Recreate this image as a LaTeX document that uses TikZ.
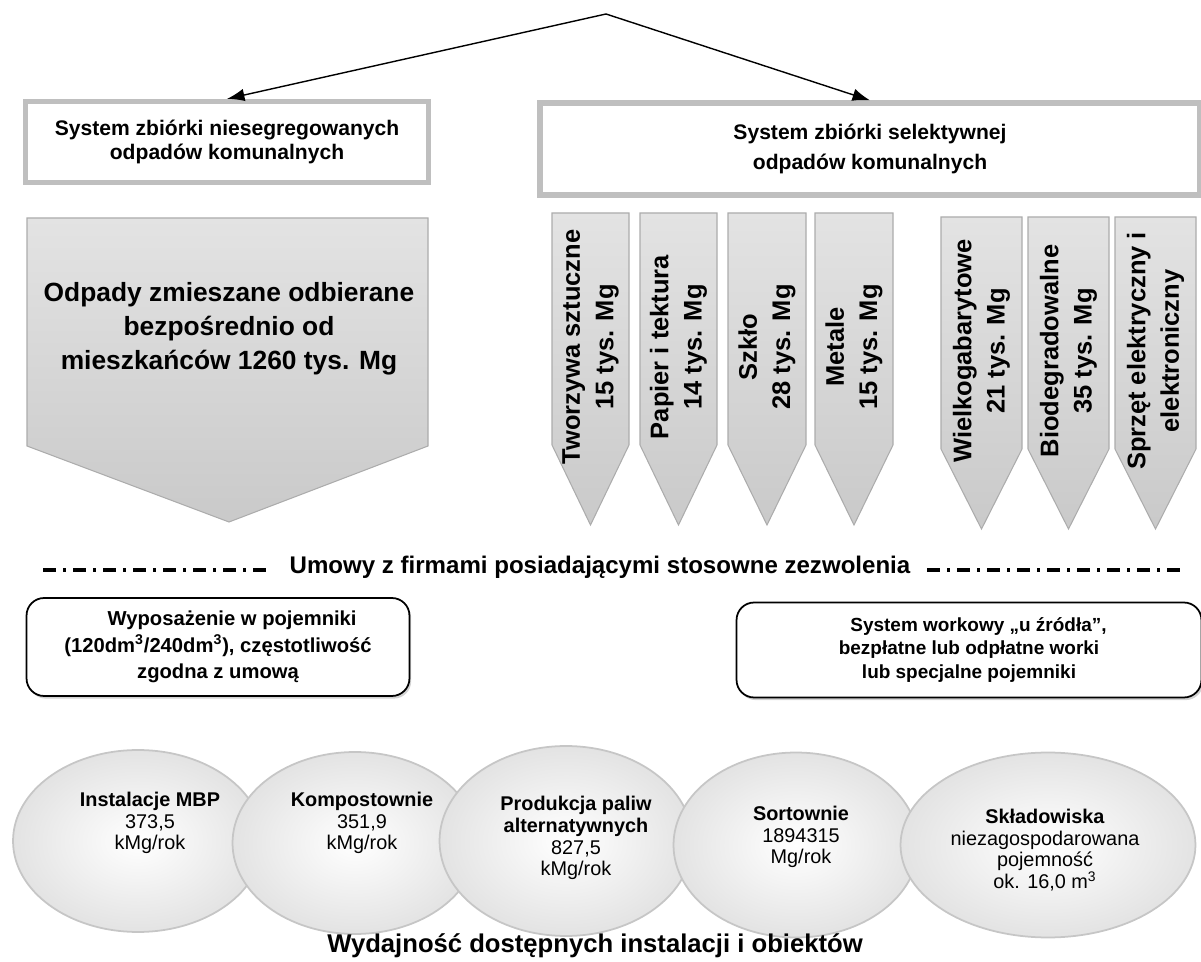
\documentclass[tikz,border=0pt]{standalone}
\usepackage{fontspec}
\setmainfont{Liberation Sans}
\usetikzlibrary{arrows.meta, positioning, shapes.geometric, shadows}

\begin{document}
\begin{tikzpicture}[
  x=0.02cm, y=-0.02cm,
  frame/.style={rectangle, draw=gray!50, line width=3pt, fill=white, align=center, font=\bfseries\fontsize{12}{14}\selectfont},
  tag/.style={draw=gray!65, top color=gray!22, bottom color=gray!42, line width=0.6pt},
  tagtext/.style={rotate=90, align=center, font=\bfseries\fontsize{14.5}{19}\selectfont},
  bigtext/.style={align=center, font=\bfseries\fontsize{15}{19.3}\selectfont},
  roundbox/.style={rectangle, rounded corners=10pt, draw, line width=1pt, fill=white, align=center, drop shadow={opacity=0.35, shadow xshift=1pt, shadow yshift=-1.5pt}},
  plant/.style={ellipse, draw=gray!45, line width=1pt, inner color=white, outer color=gray!22},
  planttext/.style={align=center, font=\fontsize{11.3}{12.4}\selectfont},
  arr/.style={-{Latex[length=3.5mm, width=2.5mm]}, line width=0.8pt},
  dd/.style={line width=2pt, dash pattern=on 7.4pt off 4pt on 1.7pt off 4pt},
]
\useasboundingbox (0,0) rectangle (1201,962);

% two collection systems
\coordinate (top) at (606,14);
\node[frame, minimum width=8.06cm, minimum height=1.62cm] (nieseg) at (227,142) {System zbiórki niesegregowanych\\odpadów komunalnych};
\node[frame, minimum width=13.2cm, minimum height=1.84cm, font=\bfseries\fontsize{12}{17}\selectfont] (selekt) at (870,149) {System zbiórki selektywnej\\odpadów komunalnych};
\draw[arr] (top) -- (nieseg.north);
\draw[arr] (top) -- (selekt.north);

% mixed waste
\draw[tag] (27,218) -- (428,218) -- (428,446) -- (229,522) -- (27,446) -- cycle;
\node[bigtext] (mixed) at (229,329) {Odpady zmieszane odbierane\\bezpośrednio od\\mieszkańców 1260 tys. Mg};

% selective fractions
\foreach \i/\xl/\w/\yt/\txt in {1/552/77/213/{Tworzywa sztuczne\\15 tys. Mg}, 2/640/77/213/{Papier i tektura\\14 tys. Mg}, 3/728/78/213/{Szkło\\28 tys. Mg}, 4/815/78/213/{Metale\\15 tys. Mg}, 5/941/81/217/{Wielkogabarytowe\\21 tys. Mg}, 6/1028/81/217/{Biodegradowalne\\35 tys. Mg}, 7/1115/81/217/{Sprzęt elektryczny i\\elektroniczny}}{
  \draw[tag] (\xl,\yt) -- ++(\w,0) -- ++(0,232) -- ++(-\w/2,80) -- ++(-\w/2,-80) -- cycle;
  \node[tagtext] (tag\i) at (\xl+\w/2,\yt+134) {\txt};
}

% contracts
\coordinate (ddl) at (43,570);
\coordinate (ddr) at (1182,570);
\node[font=\bfseries\fontsize{13.7}{16}\selectfont] (umowy) at (600,567) {Umowy z firmami posiadającymi stosowne zezwolenia};
\draw[dd] (ddl) -- ([xshift=-6pt]umowy.west |- ddl);
\draw[dd] ([xshift=6pt]umowy.east |- ddr) -- (ddr);

\node[roundbox, minimum width=7.66cm, minimum height=1.96cm, font=\bfseries\fontsize{11.5}{15}\selectfont] (pojemniki) at (218,647) {\hspace*{1.4em}Wyposażenie w pojemniki\\(120dm\textsuperscript{3}/240dm\textsuperscript{3}), częstotliwość\\zgodna z umową};
\node[roundbox, minimum width=9.3cm, minimum height=1.9cm, font=\bfseries\fontsize{10.8}{13.6}\selectfont] (worki) at (969,650) {\hspace*{1em}System workowy „u źródła”,\\bezpłatne lub odpłatne worki\\lub specjalne pojemniki};

% installations
\node[plant, minimum width=5.0cm, minimum height=3.64cm] (e1) at (138,841) {};
\node[plant, minimum width=4.9cm, minimum height=3.64cm] (e2) at (355,843) {};
\node[plant, minimum width=5.06cm, minimum height=3.8cm] (e3) at (566,841) {};
\node[plant, minimum width=4.9cm, minimum height=3.7cm] (e4) at (796,845) {};
\node[plant, minimum width=5.9cm, minimum height=3.7cm] (e5) at (1048,845) {};
\node[planttext] (t1) at (150,823) {\textbf{Instalacje MBP}\\373,5\\kMg/rok};
\node[planttext] (t2) at (362,823) {\textbf{Kompostownie}\\351,9\\kMg/rok};
\node[planttext] (t3) at (576,838) {\textbf{Produkcja paliw}\\\textbf{alternatywnych}\\827,5\\kMg/rok};
\node[planttext] (t4) at (801,837) {\textbf{Sortownie}\\1894315\\Mg/rok};
\node[planttext] (t5) at (1045,850) {\textbf{Składowiska}\\niezagospodarowana\\pojemność\\ok. 16,0 m\textsuperscript{3}};
\node[font=\bfseries\fontsize{14.6}{16}\selectfont] (wydajnosc) at (595,946) {Wydajność dostępnych instalacji i obiektów};
\end{tikzpicture}
\end{document}
